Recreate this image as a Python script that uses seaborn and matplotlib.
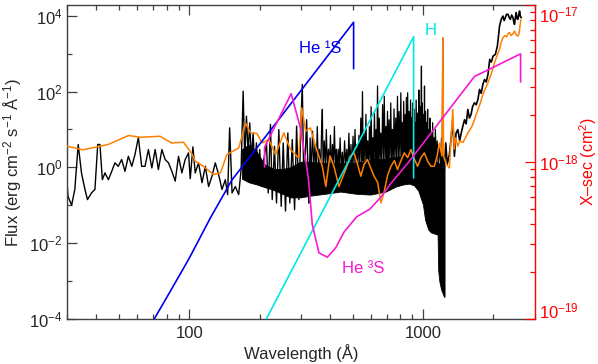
import matplotlib
matplotlib.use("Agg")
import matplotlib.pyplot as plt
import matplotlib.ticker as mticker
import seaborn as sns

# observed spectrum (black), X-ray / EUV part: wavelength in A, flux in erg cm-2 s-1 A-1
euv_wl = [30.0, 30.3, 31.4, 32.4, 33.5, 34.6, 35.8, 36.7, 38.2, 39.5,
          40.6, 41.5, 42.5, 43.6, 45.1, 46.6, 48.1, 49.7, 51.4, 53.1,
          54.9, 56.8, 58.6, 60.6, 62.6, 64.7, 66.9, 69.2, 71.5, 73.8,
          76.4, 78.9, 81.5, 84.3, 87.1, 90.0, 93.0, 96.1, 99.3, 101,
          103.7, 106.1, 109.6, 113.4, 117.2, 121, 125.1, 129.3, 133.6, 138.1,
          142.7, 146, 148.9, 152.5, 157.5, 162.8, 166.7, 170.1, 172.8, 175.7,
          178.6, 181.5, 184.5, 187.7, 190.7, 193.9, 197.2, 200.3, 203.7, 208.4,
          214.1, 217.7, 222.6, 226.5, 231.6, 236.3, 241.7, 247.5, 252.4, 258.2,
          264.2, 269.4, 276, 282.3, 288, 294.5, 301.6, 304.6, 309.5, 317.8,
          325.1]
euv_flux = [0.43, 0.17, 0.10, 0.26, 4.0, 0.71, 0.26, 0.14, 0.21, 0.26,
            4.0, 4.0, 0.47, 0.71, 0.47, 0.78, 1.31, 1.06, 1.6, 0.78,
            1.95, 1.06, 2.17, 6.1, 1.06, 1.06, 2.94, 0.96, 2.94, 0.87,
            2.94, 1.6, 1.31, 0.78, 0.43, 1.95, 0.71, 1.6, 2.4, 0.5,
            3.46, 0.71, 1.31, 0.39, 1.06, 0.31, 0.58, 1.31, 0.64, 0.26,
            0.47, 0.19, 11, 0.21, 0.31, 0.19, 0.87, 102, 1.6, 22.4,
            2.4, 14.9, 1.6, 8.1, 0.87, 4.4, 0.58, 2.94, 0.31, 1.6,
            4.4, 0.21, 13.5, 0.14, 3.6, 0.114, 9.9, 0.093, 4.4, 0.07,
            8.1, 0.114, 5.4, 0.076, 12.2, 0.14, 27, 154, 0.21, 18,
            0.114]

# line forest 325-1234 A (black), peaks and troughs
forest_wl = [325, 329, 333, 337, 341, 345, 349, 353, 357, 361,
             365, 368, 371, 374, 378, 382, 386, 390, 394, 398,
             402, 406, 410, 414, 418, 422, 426, 430, 434, 438,
             442, 447, 452, 457, 462, 467, 472, 477, 482, 487,
             492, 497, 502, 507, 512, 517, 522, 527, 532, 537,
             542, 547, 551, 555, 560, 565, 570, 575, 580, 585,
             590, 595, 600, 605, 610, 615, 620, 625, 630, 635,
             639, 645, 650, 655, 660, 666, 672, 678, 683, 689,
             695, 700, 705, 711, 716, 722, 728, 734, 740, 746,
             752, 758, 765, 771, 778, 784, 790, 797, 804, 810,
             815, 821, 827, 834, 840, 845, 850, 855, 860, 866,
             872, 878, 885, 890, 895, 899, 903, 909, 915, 920,
             925, 930, 935, 942, 949, 955, 960, 966, 972, 978,
             985, 989, 993, 999, 1005, 1010, 1015, 1020, 1025, 1030,
             1036, 1041, 1047, 1052, 1058, 1064, 1070, 1077, 1085, 1092,
             1100, 1107, 1115, 1122, 1130, 1140, 1150, 1162, 1175, 1188,
             1200, 1208, 1216, 1224, 1234]
forest_flux = [0.114, 6, 0.8, 9, 1.0, 4, 0.7, 12, 1.2, 3,
               0.6, 8, 34, 0.9, 5, 1.1, 10, 0.8, 3, 1.0,
               7, 0.7, 4, 1.3, 12, 0.9, 3, 0.8, 3, 1.0,
               6, 0.9, 2.5, 0.8, 5, 1.1, 3, 0.9, 8, 1.0,
               4, 0.7, 6.6, 1.0, 10, 0.9, 4, 1.2, 7, 1.0,
               20, 1.3, 100, 1.5, 8, 1.0, 25, 1.2, 5, 1.0,
               12, 1.5, 40, 1.2, 6, 1.5, 30, 1.3, 10, 1.6,
               140, 1.4, 20, 1.5, 8, 1.2, 45, 1.6, 75, 1.4,
               12, 1.5, 30, 1.3, 18, 1.6, 50, 1.5, 10, 1.4,
               35, 1.7, 20, 1.5, 75, 1.6, 30, 1.8, 93, 1.6,
               15, 1.7, 55, 1.8, 25, 1.7, 70, 1.9, 93, 1.8,
               30, 2.0, 60, 1.9, 20, 1.8, 50, 2.0, 35, 1.8,
               15, 1.9, 60, 1.7, 27, 1.8, 110, 1.6, 40, 1.7,
               470, 1.6, 50, 1.5, 25, 1.5, 140, 1.4, 30, 1.5,
               15, 1.4, 34, 1.4, 10, 1.3, 20, 1.3, 8, 1.3,
               15, 1.2, 6, 1.2, 10, 1.2, 5, 1.2, 4, 1.1,
               6, 1.1, 2600, 1.0, 0.87]

# dense part of the forest: lower and upper edge of the solid black band
band_wl = [168, 180, 195, 210, 230, 250, 271, 299, 330, 383,
           444, 516, 595, 693, 766, 821, 875, 917, 955, 1000,
           1021, 1054, 1082, 1155, 1162, 1176, 1197, 1230, 1237]
band_lo = [0.5, 0.4, 0.35, 0.3, 0.25, 0.2, 0.16, 0.16, 0.178, 0.20,
           0.228, 0.20, 0.19, 0.228, 0.31, 0.35, 0.37, 0.33, 0.24, 0.103,
           0.041, 0.0225, 0.019, 0.0166, 0.0019, 9.4e-4, 5.8e-4, 3.8e-4, 3.8e-4]
band_hi = [3, 4, 2.5, 1.2, 0.9, 0.9, 1.0, 1.4, 1.4, 1.3,
           1.3, 1.3, 1.6, 1.7, 1.9, 2.0, 2.1, 2.0, 1.9, 1.8,
           1.6, 1.5, 1.4, 1.35, 1.3, 1.25, 1.2, 1.15, 1.1]

# observed spectrum, FUV / NUV part
fuv_wl = [1234, 1252, 1270, 1297, 1320, 1341, 1363, 1385, 1410, 1435,
          1458, 1480, 1506, 1530, 1556, 1580, 1606, 1630, 1660, 1690,
          1718, 1746, 1775, 1804, 1834, 1865, 1897, 1930, 1960, 1995,
          2040, 2081, 2105, 2126, 2160, 2198, 2225, 2250, 2280, 2310,
          2340, 2365, 2395, 2427, 2445, 2464, 2485, 2504, 2525, 2548,
          2570, 2590, 2612, 2635]
fuv_flux = [0.87, 4.4, 1.2, 2.17, 6, 18, 1.95, 8, 9.9, 5,
            8.1, 12, 18, 14, 33.6, 20, 24.8, 40, 50.6, 45,
            61.8, 114, 90, 154, 209, 180, 283, 707, 600, 864,
            958, 1588, 3000, 5370, 8000, 9880, 7500, 8960, 11000, 10970,
            9000, 8070, 10500, 8960, 7000, 5960, 9000, 12160, 8500, 8070,
            11000, 13400, 9500, 8960]

# smoothed spectrum (orange)
smooth_wl = [30, 35, 41.5, 45, 55, 62, 75, 84, 94.5, 103,
             106, 115, 127, 136, 145, 163, 174, 183, 195, 205,
             219, 234, 254, 271, 294, 303, 315, 330, 347, 371,
             384, 400, 416, 437, 467, 490, 507, 525, 542, 560,
             579, 600, 618, 640, 661, 683, 705, 729, 755, 778,
             805, 832, 860, 888, 920, 949, 980, 1013, 1050, 1082,
             1118, 1150, 1175, 1205, 1216, 1225, 1260, 1297, 1341, 1360,
             1380, 1410, 1440, 1480, 1520, 1556, 1590, 1620, 1670, 1718,
             1760, 1800, 1850, 1897, 1960, 2025, 2075, 2126, 2160, 2198,
             2240, 2280, 2320, 2346, 2380, 2420, 2464, 2500, 2548, 2580,
             2605, 2625]
smooth_flux = [3.6, 2.9, 3.6, 4.0, 6.9, 6.2, 6.6, 4.4, 4.6, 2.2,
               1.45, 1.06, 0.64, 0.71, 2.17, 3.26, 14.9, 8.1, 7.8, 4.4,
               5.4, 2.17, 8.1, 2.94, 1.77, 37, 9.0, 11, 3.6, 1.06,
               0.31, 2.0, 1.06, 0.31, 0.87, 2.0, 2.4, 1.2, 0.58, 1.2,
               1.6, 0.9, 0.58, 0.4, 0.114, 0.23, 0.6, 1.06, 1.5, 0.87,
               1.5, 2.4, 1.8, 2.94, 1.6, 1.06, 1.8, 2.4, 1.4, 1.06,
               1.06, 2.0, 4.4, 2.0, 2650, 1.95, 1.2, 0.96, 33.6, 3.0,
               6, 3.6, 5, 4.5, 6, 8.1, 10, 12, 20, 33.6,
               50, 80, 120, 171, 300, 578, 900, 1300, 2000, 2650,
               3000, 2800, 3500, 3590, 3000, 3300, 3960, 3200, 2920, 3500,
               6000, 8000]

# photoionisation cross sections (cm2)
he1s_wl = [61.7, 71.5, 82.0, 100, 123, 152.5, 205, 505, 505]
he1s_xsec = [6.7e-20, 1.02e-19, 1.45e-19, 2.43e-19, 4.38e-19, 7.7e-19, 1.36e-18, 7.8e-18, 3.94e-18]

h_wl = [160, 214, 912, 912]
h_xsec = [4.4e-20, 1.0e-19, 6.3e-18, 7.9e-19]

he3s_wl = [210, 210, 273, 299, 315, 324, 336, 359, 390, 423,
           460, 521, 592, 661, 729, 860, 1082, 1660, 2616, 2616]
he3s_xsec = [9.3e-19, 1.24e-18, 2.73e-18, 1.65e-18, 1.03e-18, 7.7e-19, 4.0e-19, 2.63e-19, 2.47e-19, 2.83e-19,
             3.58e-19, 4.48e-19, 5.0e-19, 5.97e-19, 7.3e-19, 9.8e-19, 1.53e-18, 3.51e-18, 4.9e-18, 3.24e-18]

BLACK = "#000000"
ORANGE = "#ff8000"
BLUE = "#0000f0"
CYAN = "#00e8e8"
MAGENTA = "#f61ad2"
RED = "#ff0000"
AXIS_GREY = "#404040"

sns.set_style("ticks")
plt.rcParams["font.family"] = ["Liberation Sans", "DejaVu Sans"]
plt.rcParams["mathtext.fontset"] = "custom"
plt.rcParams["mathtext.rm"] = "Liberation Sans"
plt.rcParams["mathtext.it"] = "Liberation Sans:italic"
plt.rcParams["mathtext.bf"] = "Liberation Sans:bold"
plt.rcParams["font.size"] = 12

fig = plt.figure(figsize=(5.98, 3.64), dpi=100)
ax = fig.add_axes([67 / 598, 1 - 318.7 / 364, 467.5 / 598, 313.4 / 364])
ax.set_xscale("log")
ax.set_yscale("log")
ax.set_xlim(30, 3000)
ax.set_ylim(1e-4, 1.9e4)

# black spectrum
ax.fill_between(band_wl, band_lo, band_hi, color=BLACK, lw=0.6, zorder=2)
line_kw = dict(ax=ax, color=BLACK, sort=False, estimator=None, zorder=2)
sns.lineplot(x=euv_wl, y=euv_flux, lw=1.0, **line_kw)
sns.lineplot(x=forest_wl, y=forest_flux, lw=0.9, **line_kw)
sns.lineplot(x=fuv_wl, y=fuv_flux, lw=1.2, **line_kw)
# smoothed spectrum
sns.lineplot(x=smooth_wl, y=smooth_flux, ax=ax, color=ORANGE, lw=1.1, sort=False, estimator=None, zorder=3)

ax.xaxis.set_major_locator(mticker.LogLocator(base=10, subs=(1.0,)))
ax.xaxis.set_minor_locator(mticker.LogLocator(base=10, subs=tuple(range(2, 10))))
ax.xaxis.set_major_formatter(mticker.FuncFormatter(lambda v, _: f"{v:g}"))
ax.xaxis.set_minor_formatter(mticker.NullFormatter())
ax.yaxis.set_major_locator(mticker.FixedLocator([1e-4, 1e-2, 1e0, 1e2, 1e4]))
ax.yaxis.set_minor_locator(mticker.FixedLocator([1e-3, 1e-1, 1e1, 1e3]))
ax.yaxis.set_major_formatter(mticker.LogFormatterSciNotation())
ax.yaxis.set_minor_formatter(mticker.NullFormatter())

ax.tick_params(which="both", direction="in", color=AXIS_GREY, width=0.9,
               top=True, bottom=True, left=True, right=False)
ax.tick_params(which="major", length=7.5)
ax.tick_params(which="minor", length=3.8)
ax.tick_params(axis="x", pad=5)
ax.tick_params(axis="y", pad=3)
for side in ("left", "bottom", "top"):
    ax.spines[side].set_color(AXIS_GREY)
    ax.spines[side].set_linewidth(1.0)
ax.spines["right"].set_visible(False)

ax.set_xlabel("Wavelength (Å)")
ax.set_ylabel("Flux (erg cm$^{-2}$ s$^{-1}$ Å$^{-1}$)")
ax.xaxis.label.set_va("center")
ax.yaxis.label.set_va("center")
ax.xaxis.set_label_coords(0.5, -0.108)
ax.yaxis.set_label_coords(-0.1166, 0.5)

# cross sections on the right axis
ax2 = ax.twinx()
ax2.set_yscale("log")
ax2.set_ylim(1e-19, 1e-17)
xs_kw = dict(ax=ax2, lw=1.2, sort=False, estimator=None)
sns.lineplot(x=he1s_wl, y=he1s_xsec, color=BLUE, **xs_kw)
sns.lineplot(x=h_wl, y=h_xsec, color=CYAN, **xs_kw)
sns.lineplot(x=he3s_wl, y=he3s_xsec, color=MAGENTA, **xs_kw)
ax2.set_xlim(30, 3000)

ax2.yaxis.set_major_locator(mticker.FixedLocator([1e-19, 1e-18, 1e-17]))
ax2.yaxis.set_minor_locator(mticker.LogLocator(base=10, subs=tuple(range(2, 10))))
ax2.yaxis.set_major_formatter(mticker.LogFormatterSciNotation())
ax2.yaxis.set_minor_formatter(mticker.NullFormatter())
ax2.tick_params(axis="y", which="both", direction="in", color=RED, labelcolor=RED, width=0.9, pad=3)
ax2.tick_params(axis="y", which="major", length=7.5)
ax2.tick_params(axis="y", which="minor", length=3.8)
ax2.tick_params(axis="x", which="both", bottom=False, top=False, labelbottom=False, labeltop=False)
for side in ("left", "bottom", "top"):
    ax2.spines[side].set_visible(False)
ax2.spines["right"].set_color(RED)
ax2.spines["right"].set_linewidth(1.0)
ax2.set_ylabel("X–sec (cm$^2$)", color=RED, rotation=90, fontsize=11.5)
ax2.yaxis.label.set_va("center")
ax2.yaxis.set_label_coords(1.1145, 0.5)

ax2.text(0.541, 0.861, "He ¹S", color=BLUE, ha="center", va="center", transform=ax.transAxes)
ax2.text(0.7786, 0.921, "H", color=CYAN, ha="center", va="center", transform=ax.transAxes)
ax2.text(0.633, 0.160, "He ³S", color=MAGENTA, ha="center", va="center", transform=ax.transAxes)

# keep the end labels of the right axis inside the frame, as in the original
fig.canvas.draw()
right_ticks = ax2.yaxis.get_major_ticks()
right_ticks[0].label2.set_va("baseline")
right_ticks[-1].label2.set_va("top")

fig.savefig("out.png", dpi=100)
